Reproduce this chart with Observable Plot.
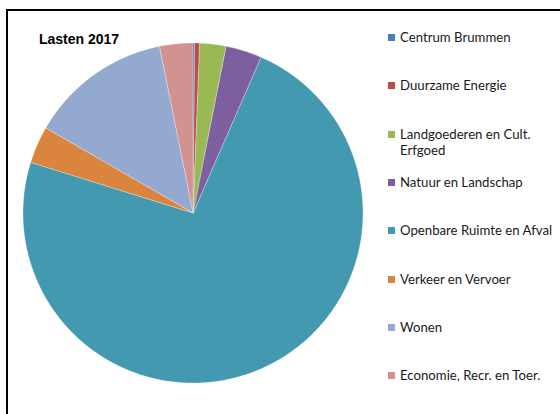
<!DOCTYPE html>
<html>
<head>
<meta charset="utf-8">
<script src="https://cdn.jsdelivr.net/npm/d3@7"></script>
<script src="https://cdn.jsdelivr.net/npm/@observablehq/plot@0.6"></script>
<style>
  html, body { margin: 0; padding: 0; background: #fff; overflow: hidden; }
  #wrap { position: relative; width: 560px; height: 414px; overflow: hidden; font-family: Lato, "Open Sans", sans-serif; }
  #frame { position: absolute; left: 6px; top: 9px; width: 700px; height: 600px; border: 2px solid #000; box-sizing: border-box; }
  #title { position: absolute; left: 39px; top: 30px; font: bold 14px "Liberation Sans", Arial, sans-serif; color: #000; line-height: 18px; }
  #pie { position: absolute; left: 21px; top: 41px; }
  .item { position: absolute; left: 388px; width: 170px; }
  .sw { position: absolute; left: 0; width: 7px; height: 7px; }
  .lbl { position: absolute; left: 12px; width: 158px; font-size: 13.2px; line-height: 16.7px; color: #1a1a1a; }
</style>
</head>
<body>
<div id="wrap">
  <div id="frame"></div>
  <div id="title">Lasten 2017</div>
  <div id="pie"></div>
  <div id="legend"></div>
</div>
<script>
const categories = [
  "Centrum Brummen",
  "Duurzame Energie",
  "Landgoederen en Cult. Erfgoed",
  "Natuur en Landschap",
  "Openbare Ruimte en Afval",
  "Verkeer en Vervoer",
  "Wonen",
  "Economie, Recr. en Toer."
];
const values = [0.17, 0.47, 2.5, 3.44, 73.25, 3.53, 13.5, 3.14];
const colors = ["#4A7EBB", "#BE4B48", "#98B954", "#7D5FA0", "#4299B0", "#DB843D", "#93A9CF", "#D19392"];

const arcs = d3.pie().sort(null).startAngle(0).endAngle(2 * Math.PI)(values);
const rows = [];
arcs.forEach((a, i) => {
  const n = Math.max(2, Math.ceil((a.endAngle - a.startAngle) / (Math.PI / 360)));
  for (let k = 0; k <= n; k++) {
    const t = a.startAngle + (a.endAngle - a.startAngle) * k / n;
    rows.push({cat: categories[i], ax: Math.sin(t), ay: Math.cos(t), cx: 0, cy: 0});
  }
});

const chart = Plot.plot({
  width: 344,
  height: 344,
  margin: 2,
  x: {domain: [-1, 1], axis: null},
  y: {domain: [-1, 1], axis: null},
  color: {domain: categories, range: colors},
  marks: [
    Plot.area(rows, {x1: "ax", y1: "ay", x2: "cx", y2: "cy", z: "cat", fill: "cat", stroke: "#ffffff", strokeWidth: 0.4, strokeOpacity: 0.7})
  ]
});
document.getElementById("pie").appendChild(chart);

const legend = document.getElementById("legend");
categories.forEach((c, i) => {
  const cy = 37.5 + i * 48.3;
  const item = document.createElement("div");
  item.className = "item";
  item.style.top = cy + "px";
  const sw = document.createElement("div");
  sw.className = "sw";
  sw.style.top = "-3.5px";
  sw.style.background = colors[i];
  const lbl = document.createElement("div");
  lbl.className = "lbl";
  lbl.style.top = "-8.35px";
  lbl.textContent = c;
  item.appendChild(sw);
  item.appendChild(lbl);
  legend.appendChild(item);
});
</script>
</body>
</html>
